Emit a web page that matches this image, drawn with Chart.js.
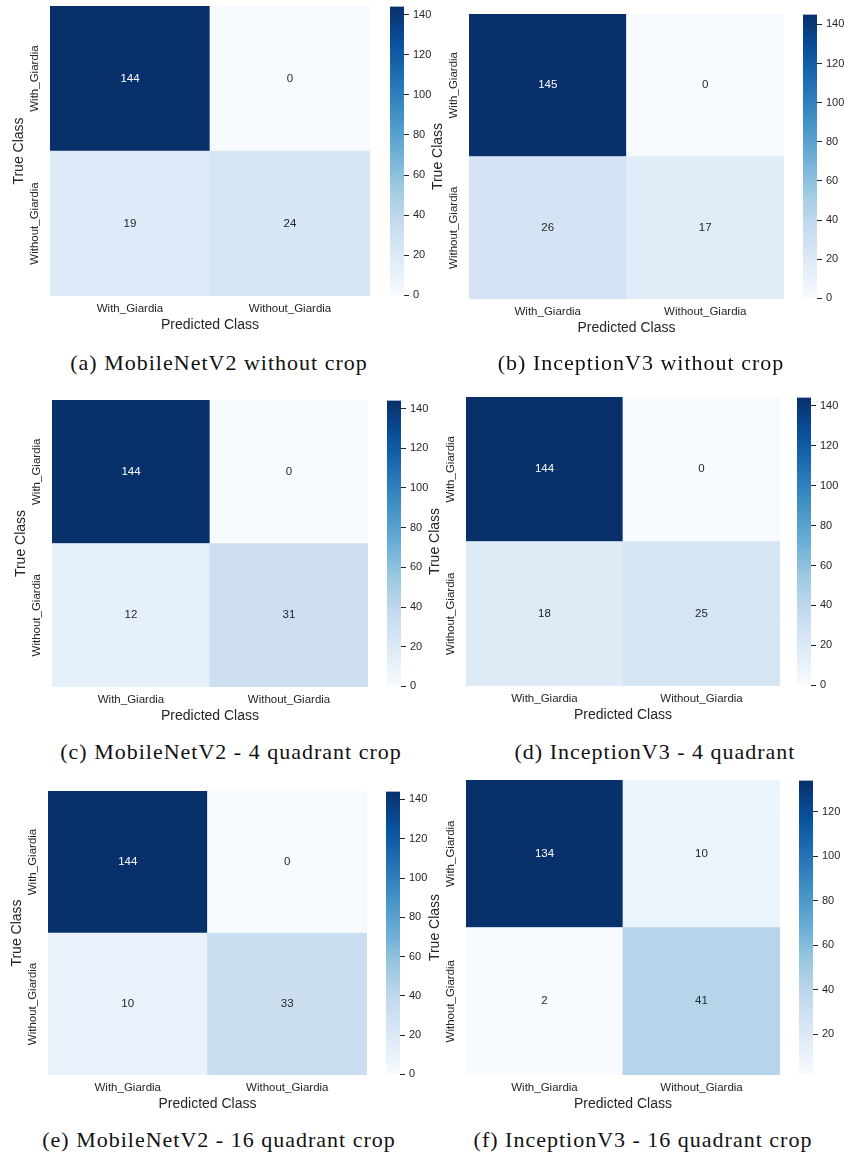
<!DOCTYPE html>
<html>
<head>
<meta charset="utf-8">
<title>Confusion matrices</title>
<style>
  html, body { margin: 0; padding: 0; background: #fff; }
  body { width: 844px; height: 1156px; position: relative; overflow: hidden; }
  canvas { position: absolute; display: block; }
  .cap {
    position: absolute;
    font-family: 'Liberation Serif', 'Times New Roman', serif;
    font-size: 22px;
    letter-spacing: 1px;
    line-height: 26px;
    color: #111;
    white-space: nowrap;
    transform: translateX(-50%);
  }
</style>
<script src="https://cdn.jsdelivr.net/npm/chart.js@4.4.0/dist/chart.umd.min.js"></script>
</head>
<body>
<script>
// ---- data ----
const classLabels = ['With_Giardia', 'Without_Giardia'];

// rows = true class, columns = predicted class
const mobileNoCrop = [[144, 0], [19, 24]];
const inceptionNoCrop = [[145, 0], [26, 17]];
const mobile4Quad = [[144, 0], [12, 31]];
const inception4Quad = [[144, 0], [18, 25]];
const mobile16Quad = [[144, 0], [10, 33]];
const inception16Quad = [[134, 10], [2, 41]];

const colorbarTicks = [0, 20, 40, 60, 80, 100, 120, 140];

const captions = [
  '(a) MobileNetV2 without crop',
  '(b) InceptionV3 without crop',
  '(c) MobileNetV2 - 4 quadrant crop',
  '(d) InceptionV3 - 4 quadrant',
  '(e) MobileNetV2 - 16 quadrant crop',
  '(f) InceptionV3 - 16 quadrant crop'
];

// ---- layout (pixel boxes of each panel) ----
const layout = [
  { m: mobileNoCrop,    heat: [50, 6, 370, 296],    cbar: [390, 6, 404, 296],   cap: [219, 363] },
  { m: inceptionNoCrop, heat: [469, 14, 784, 299],  cbar: [803, 14, 817, 299],  cap: [641, 363] },
  { m: mobile4Quad,     heat: [52, 400, 368, 687],  cbar: [387, 400, 401, 687], cap: [231, 752] },
  { m: inception4Quad,  heat: [466, 397, 780, 686], cbar: [797, 397, 811, 686], cap: [655, 752] },
  { m: mobile16Quad,    heat: [48, 791, 367, 1075], cbar: [386, 791, 400, 1075], cap: [219, 1140] },
  { m: inception16Quad, heat: [466, 780, 780, 1075], cbar: [799, 780, 813, 1075], cap: [643, 1140] }
];

Chart.defaults.font.family = "'Liberation Sans', Arial, sans-serif";
Chart.defaults.color = '#262626';

// matplotlib "Blues"
const BLUES = ['#f7fbff', '#deebf7', '#c6dbef', '#9ecae1', '#6baed6',
               '#4292c6', '#2171b5', '#08519c', '#08306b'];

function hexToRgb(h) {
  return [parseInt(h.slice(1, 3), 16), parseInt(h.slice(3, 5), 16), parseInt(h.slice(5, 7), 16)];
}

function blues(t) {
  t = Math.max(0, Math.min(1, t));
  const p = t * (BLUES.length - 1);
  const i = Math.min(Math.floor(p), BLUES.length - 2);
  const f = p - i;
  const a = hexToRgb(BLUES[i]), b = hexToRgb(BLUES[i + 1]);
  return a.map((c, k) => Math.round(c + (b[k] - c) * f));
}

function luminance(rgb) {
  const lin = rgb.map(c => {
    c = c / 255;
    return c <= 0.03928 ? c / 12.92 : Math.pow((c + 0.055) / 1.055, 2.4);
  });
  return 0.2126 * lin[0] + 0.7152 * lin[1] + 0.0722 * lin[2];
}

function makeCanvas(x, y, w, h) {
  const c = document.createElement('canvas');
  c.width = w;
  c.height = h;
  c.style.left = x + 'px';
  c.style.top = y + 'px';
  c.style.width = w + 'px';
  c.style.height = h + 'px';
  document.body.appendChild(c);
  return c;
}

// numbers inside cells
const cellText = {
  id: 'cellText',
  afterDatasetsDraw(chart) {
    const ctx = chart.ctx;
    ctx.save();
    ctx.font = "11.5px 'Liberation Sans', Arial, sans-serif";
    ctx.textAlign = 'center';
    ctx.textBaseline = 'middle';
    chart.data.datasets.forEach((ds, i) => {
      chart.getDatasetMeta(i).data.forEach((bar, j) => {
        const rgb = ds.cellRgb[j];
        ctx.fillStyle = luminance(rgb) > 0.408 ? '#262626' : '#ffffff';
        ctx.fillText(String(ds.counts[j]), bar.x, (bar.y + bar.base) / 2);
      });
    });
    ctx.restore();
  }
};

// rotated row labels on the left
const rowLabels = {
  id: 'rowLabels',
  afterDraw(chart) {
    const ctx = chart.ctx;
    const area = chart.chartArea;
    ctx.save();
    ctx.font = "11.5px 'Liberation Sans', Arial, sans-serif";
    ctx.fillStyle = '#262626';
    ctx.textAlign = 'center';
    ctx.textBaseline = 'middle';
    chart.data.datasets.forEach((ds, i) => {
      const bar = chart.getDatasetMeta(i).data[0];
      ctx.save();
      ctx.translate(area.left - 15, (bar.y + bar.base) / 2);
      ctx.rotate(-Math.PI / 2);
      ctx.fillText(ds.label, 0, 0);
      ctx.restore();
    });
    ctx.restore();
  }
};

const AXIS_W = 50, AXIS_H = 40;

function drawHeatmap(matrix, box) {
  const [x0, y0, x1, y1] = box;
  const canvas = makeCanvas(x0 - AXIS_W, y0, x1 - x0 + AXIS_W, y1 - y0 + AXIS_H);
  const flat = matrix.flat();
  const vmin = Math.min(...flat), vmax = Math.max(...flat);

  // stacked bars: first dataset is the bottom row
  const datasets = matrix.map((row, r) => {
    const rgbs = row.map(v => blues((v - vmin) / (vmax - vmin)));
    return {
      label: classLabels[r],
      data: row.map(() => 1),
      counts: row,
      cellRgb: rgbs,
      backgroundColor: rgbs.map(c => `rgb(${c[0]},${c[1]},${c[2]})`),
      borderWidth: 0,
      barPercentage: 1,
      categoryPercentage: 1
    };
  }).reverse();

  new Chart(canvas, {
    type: 'bar',
    data: { labels: classLabels, datasets: datasets },
    options: {
      responsive: false,
      animation: false,
      events: [],
      layout: { padding: 0 },
      plugins: { legend: { display: false }, tooltip: { enabled: false } },
      scales: {
        x: {
          stacked: true,
          grid: { display: false, drawTicks: false },
          border: { display: false },
          ticks: { padding: 6, maxRotation: 0, minRotation: 0, font: { size: 11.5 }, color: '#262626' },
          title: { display: true, text: 'Predicted Class', font: { size: 14 }, color: '#262626', padding: { top: 0, bottom: 2 } },
          afterFit(s) { s.height = AXIS_H; }
        },
        y: {
          stacked: true,
          min: 0,
          max: matrix.length,
          grid: { display: false, drawTicks: false },
          border: { display: false },
          ticks: { display: false },
          title: { display: true, text: 'True Class', font: { size: 14 }, color: '#262626', padding: { top: 10.6, bottom: 0 } },
          afterFit(s) { s.width = AXIS_W; }
        }
      }
    },
    plugins: [cellText, rowLabels]
  });
  return { vmin, vmax };
}

function drawColorbar(vmin, vmax, box) {
  const [x0, y0, x1, y1] = box;
  const PAD = 10, CB_AXIS = 40;
  const canvas = makeCanvas(x0, y0 - PAD, x1 - x0 + CB_AXIS, y1 - y0 + 2 * PAD);
  const ticks = colorbarTicks.filter(v => v >= vmin && v <= vmax);

  new Chart(canvas, {
    type: 'bar',
    data: {
      labels: [''],
      datasets: [{
        data: [[vmin, vmax]],
        backgroundColor(c) {
          const chart = c.chart;
          if (!chart.chartArea) return BLUES[0];
          const ys = chart.scales.y;
          const g = chart.ctx.createLinearGradient(0, ys.getPixelForValue(vmin), 0, ys.getPixelForValue(vmax));
          BLUES.forEach((col, i) => g.addColorStop(i / (BLUES.length - 1), col));
          return g;
        },
        borderWidth: 0,
        barPercentage: 1,
        categoryPercentage: 1
      }]
    },
    options: {
      responsive: false,
      animation: false,
      events: [],
      layout: { padding: { top: PAD, bottom: PAD, left: 0, right: 0 } },
      plugins: { legend: { display: false }, tooltip: { enabled: false } },
      scales: {
        x: { display: false },
        y: {
          position: 'right',
          min: vmin,
          max: vmax,
          afterBuildTicks(s) { s.ticks = ticks.map(v => ({ value: v })); },
          grid: { drawOnChartArea: false, drawTicks: true, tickLength: 5, color: '#262626', tickWidth: 1 },
          border: { display: false },
          ticks: { padding: 4, font: { size: 11 }, color: '#262626' },
          afterFit(s) { s.width = CB_AXIS; }
        }
      }
    }
  });
}

layout.forEach((p, i) => {
  const range = drawHeatmap(p.m, p.heat);
  drawColorbar(range.vmin, range.vmax, p.cbar);
  const cap = document.createElement('div');
  cap.className = 'cap';
  cap.textContent = captions[i];
  cap.style.left = p.cap[0] + 'px';
  cap.style.top = (p.cap[1] - 13) + 'px';
  document.body.appendChild(cap);
});
</script>
</body>
</html>
